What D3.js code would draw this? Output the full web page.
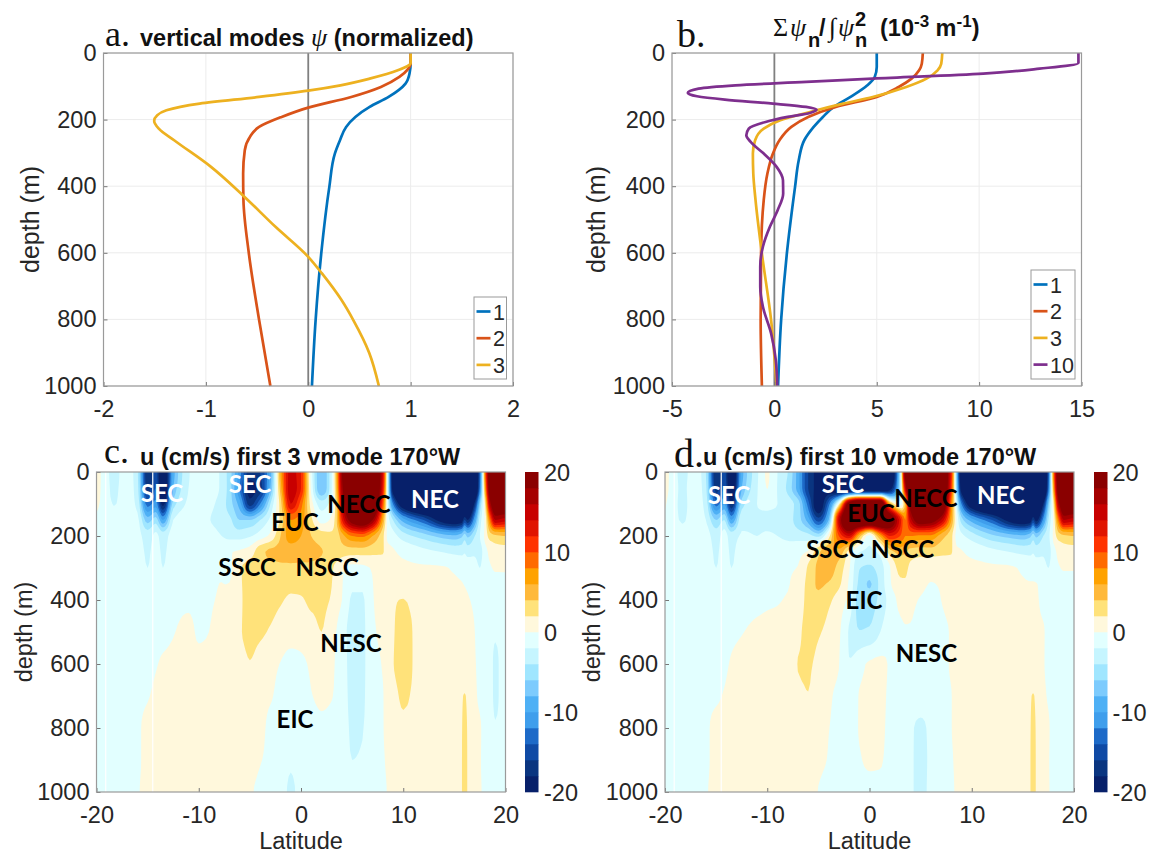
<!DOCTYPE html>
<html><head><meta charset="utf-8">
<script src="https://cdnjs.cloudflare.com/ajax/libs/d3/7.8.5/d3.min.js"></script>
<style>
html,body{margin:0;background:#fff}
svg{display:block}
text{font-family:"Liberation Sans",Arial,sans-serif;fill:#262626}
.tick text{font-size:23.5px}
.ser{font-family:"Liberation Serif",serif}
.cur{font-family:Lato,"Noto Sans",sans-serif;font-weight:700;font-size:24px;text-anchor:middle;dominant-baseline:central}
.ttl{font-weight:700;font-size:23.5px;fill:#111}
</style></head><body><svg id="c" width="1157" height="854"></svg>
<script>
// ---------- line panels: depth (m) and values
const depthA1=[0,30,60,92,132,162,192,222,262,302,402,602,802,1000];
const modeA1=[1,1,.99,.95,.785,.6,.46,.37,.31,.26,.206,.127,.072,.036];
const depthA2=[0,30,50,72,102,132,164,192,222,252,292,362,442,602,802,1000];
const modeA2=[1,1,.97,.89,.71,.42,0,-.26,-.48,-.57,-.62,-.636,-.633,-.58,-.48,-.37];
const depthA3=[0,30,52,77,97,113,132,152,172,187,204,227,262,342,427,522,612,662,742,802,900,1000];
const modeA3=[1,1,.875,.6,.315,0,-.48,-1.06,-1.385,-1.475,-1.505,-1.46,-1.31,-.95,-.64,-.32,0,.134,.325,.44,.595,.69];

const depthB1=[0,42,72,97,132,162,192,222,262,322,402,602,802,1000];
const sumB1=[5,5,4.9,4.54,3.72,2.9,2.37,1.92,1.46,1.19,1.01,.61,.33,.18];
const depthB2=[0,32,52,77,102,132,162,192,222,262,302,362,442,602,802,1000];
const sumB2=[7.25,7.2,7.07,6.7,6.07,5,3,1.65,.83,.25,-.07,-.34,-.52,-.65,-.67,-.61];
const depthB3=[0,32,52,77,102,132,152,177,202,227,262,302,362,442,602,802,1000];
const sumB3=[8.2,8.15,7.97,7.43,6.44,4.8,3.36,1.74,.29,-.52,-.94,-1.05,-1.03,-.92,-.61,-.16,.11];
const depthB10=[0,30,47,62,77,87,97,107,120,130,140,152,162,170,180,192,207,227,247,267,302,342,382,422,472,522,582,642,702,762,842,922,1000];
const sumB10=[14.85,14.85,12.95,10.2,4.8,1.55,-1.9,-3.7,-4.23,-3.78,-2.42,-.07,1.55,2.06,1.74,.65,-.43,-1.25,-1.37,-1.16,-.52,.11,.42,.43,.16,-.22,-.56,-.69,-.69,-.56,-.16,.07,.14];

const lineColors=["#0072BD","#D95319","#EDB120","#7E2F8E"];

// ---------- section grids: latitude, depth, zonal velocity (cm/s)
const lats=[-20,-18.3,-17,-16,-15,-14.2,-13.5,-12.5,-11,-10,-9,-8,-7,-6,-5,-4,-3,-2,-1,0,1,2,3,3.5,4,5,6,7,8,8.5,9,10,12,14,15,15.7,16,16.3,17,17.5,18,18.5,19,20];
const depthsC=[0,50,100,150,200,250,300,400,500,600,700,800,900,1000];
const depthsD=[0,50,100,150,200,250,300,350,400,500,600,700,800,900,1000];
const uC=[
[.5,-2.6,-1,-3.5,-18,-15,-23,-9,-2.2,-1,-1,-2,-5,-11,-17,-16,-9,6,15,12,-1,-8,-2,6,18,25,25,25,14,-3,-21,-26,-26,-26,-26,-26,-26,-26,-24,-13,8,22,25,25],
[.4,-2.4,-1,-3.2,-17,-14,-23,-8,-2,-1,-1,-2,-5,-12,-19,-17,-8,5,15.5,12,-.5,-8,-2,5.5,17,25,25,25,13,-3,-20,-26,-26,-26,-26,-26,-26,-26,-24,-12,6,21,24,24],
[.2,-2.1,-1,-2.6,-13,-11,-19,-5,-1.6,-.8,-1.5,-2.5,-5,-9,-17,-12,-4,3,14,9,1,-3,-1,4,15,24,24,24,10,-2,-12,-21,-25,-25,-25,-25,-25,-25,-17,-6,2,17,22,22],
[-.2,-1,-.8,-1.5,-7,-5,-10,-2,-.8,-1,-1.9,-2.6,-3.5,-6,-6,-4,-1.5,2.5,8,7,2.5,-.8,.5,4,12,20,22,18,6,-1,-4,-9,-14,-20,-21,-20,-16,-18,-10,-3,.5,9,16,15],
[-.5,-.7,-.7,-1.2,-3,-1.5,-3,-1,-.6,-.5,-.9,-1.8,-2.5,-2.7,-2.2,-1,.5,4,7,6,4,3,2.5,3,5,8,8.5,6,2.5,-.5,-1.2,-3,-5,-7,-7.5,-6.5,-5,-6.5,-4,-2,.5,3,3.5,4],
[-.4,-.5,-.6,-.8,-2.4,-1,-2.4,-.7,-.4,-.3,-.4,-.3,-.1,.3,1,3.3,4.4,4.6,4.8,4.8,4.6,4.1,3.4,3.2,3,2.8,2.8,2.6,2.2,.5,.2,-.4,-1.4,-2.1,-2.5,-2.6,-2.2,-2.8,-2.4,-2.8,-.6,.4,1,1.1],
[-.3,-.4,-.5,-.6,-2,-.7,-2,-.5,-.3,-.2,-.2,-.1,-.3,1.8,2.6,3.1,3.4,3.6,3.7,3.6,3.5,3.2,2.3,1.2,.3,-.5,-.4,.1,.2,.3,.4,.4,.2,.1,-.2,-.5,-.6,-.8,-1.2,-2,-.4,-.1,.1,.1],
[-.3,-.3,-.4,-.4,-.4,-.4,-.4,-.3,-.2,-.2,-.1,.1,.5,1.7,2.6,2.8,2.6,2.2,1.7,1.8,2.4,2.4,1.8,.8,0,-2.2,-2.2,-.1,.5,.7,1.8,2.05,.8,.5,.4,.3,.2,.1,-.2,-.4,-.5,-.5,-.5,-.4],
[-.4,-.4,-.3,-.3,-.3,-.2,-.2,-.05,.3,-.15,0,.4,.8,1.8,2.5,2.3,1.8,1.2,.8,.8,1.3,2,.6,-.1,-1.2,-2.5,-2.4,-.3,.4,.8,1.8,2.7,.9,.6,.4,.3,.3,.3,0,-.3,-.6,-1.2,-1.7,-.8],
[-.4,-.4,-.3,-.3,-.2,-.05,.1,.2,.3,.3,.4,.5,.7,1,1.9,1.1,.4,-.05,-.5,-.3,.2,.5,.3,-.3,-1,-2.6,-2.4,-.5,.1,.6,1.9,2.9,.7,.5,.4,.3,.3,.2,.05,-.3,-.7,-1.3,-2.4,-.9],
[-.4,-.3,-.3,-.2,-.05,.15,.3,.3,.3,.3,.4,.4,.4,.4,.4,.3,.1,-.3,-.5,-.5,-.05,.2,.05,-.3,-.9,-2.5,-2.3,-.6,-.05,.4,1.1,2.4,.7,.5,.4,1.8,2.1,1.7,.2,-.2,-.6,-1.2,-2.4,-.9],
[-.3,-.3,-.2,-.1,.2,.3,.3,.3,.3,.3,.3,.3,.3,.3,.3,.2,-.2,-.4,-.6,-.6,-.4,-.2,-.3,-.4,-.8,-2.3,-2.1,-.6,-.05,.3,.7,1.4,.6,.5,.4,1.9,2.3,1.9,.3,.1,-.4,-.8,-1.8,-.8],
[-.3,-.3,-.2,-.1,.2,.3,.3,.3,.3,.3,.3,.3,.3,.3,.3,.05,-.2,-.5,-1.6,-.7,-.5,-.4,-.4,-.5,-.8,-2,-1.8,-.6,-.1,.15,.4,.5,.5,.5,.4,1.9,2.5,1.9,.3,.05,-.2,-.5,-.7,-.6],
[-.3,-.3,-.2,-.05,.2,.3,.3,.3,.3,.3,.3,.3,.3,.3,.1,-.2,-.5,-1,-2.4,-1.2,-.7,-.5,-.5,-.5,-.8,-1.2,-1.2,-.6,-.15,.05,.3,.4,.4,.4,.4,1.9,2.5,1.9,.3,.05,-.1,-.4,-.5,-.5]
];
const uD=[
[.4,-2.6,-.9,-4,-18,-15,-23,-9,-2.4,.2,-2,-4,-9,-16,-19,-20,-22,-24,-26,-26,-26,-24,-4,20,25,25,25,25,12,-6,-22,-26,-26,-26,-26,-26,-26,-26,-26,-14,8,22,25,25],
[.3,-2.4,-.9,-3.5,-17,-14,-22,-8,-2.2,.05,-2.1,-4.5,-9,-16,-19,-20,-22,-24,-24,-24,-24,-20,-4,15,25,25,25,25,11,-5,-20,-26,-26,-26,-26,-26,-26,-26,-25,-13,6,21,24,24],
[.1,-2.5,-.9,-2.8,-13,-10,-18,-5,-2,-1.6,-2,-3,-5,-13,-20.5,-13,1,21,25,25,25,6,-1,5,20,25,25,24,8,-2,-12,-21,-25,-25,-25,-25,-25,-25,-18,-7,2,17,22,22],
[-.2,-2.2,-1,-2,-6,-4,-10,-2.5,-2.2,-2.3,-2.4,-3.2,-5,-9,-15,-8,15,25,25,25,25,22,13,8,15,21,20,16,6,0,-5,-9,-14,-20,-21,-20,-16,-19,-11,-4,.5,9,16,15],
[-.5,-1,-.8,-1.1,-3,-1.2,-3,-1.8,-2,-1.8,-2,-2.4,-2.8,-3.2,-4.5,1,10,14,5,-1,6,12,10,8,8,7.5,7.5,5,2.5,-.5,-1.5,-3,-5.5,-7,-7.5,-6.5,-5,-6.5,-4,-2.5,.5,3,3.5,4],
[-.4,-.5,-.6,-.7,-2.4,-.9,-2.4,-.9,-.9,-1,-1,-1,-.5,.2,3.6,5.4,5.3,1,-1.9,-2.5,-1.5,3,4.6,4.2,3.2,3,3,2.6,2.2,.3,.1,-.4,-1.4,-2.1,-2.5,-2.6,-2.2,-2.8,-2.4,-2.8,-.6,.4,1,1.1],
[-.3,-.4,-.5,-.6,-2,-.7,-2,-.7,-.6,-.5,-.4,-.3,.1,2.3,4.4,5,3.2,.3,-3.9,-4.4,-3,-.1,2.6,2.5,1.5,.6,.4,.4,.3,.3,.3,.3,.2,.1,-.2,-.5,-.6,-.8,-1.2,-2,-.4,-.1,.1,.1],
[-.3,-.3,-.4,-.4,-.6,-.5,-.7,-.4,-.3,-.3,-.2,-.1,1,2.5,4.3,3.8,2.4,-.3,-4.5,-6.2,-3.5,-.3,1.6,1.7,1,.4,-.05,.1,.3,.3,.3,.3,.3,.2,.1,.05,.05,.03,-.3,-.5,-.5,-.4,-.3,-.3],
[-.3,-.3,-.4,-.4,-.3,-.3,-.3,-.2,-.15,-.1,-.05,.1,.9,2.6,3.3,2.4,1.1,-.6,-5,-5,-3.5,-1.2,.4,.5,.3,-.1,-.4,0,.3,.3,.3,.4,.4,.3,.25,.2,.15,.1,-.2,-.3,-.5,-.5,-.5,-.4],
[-.4,-.3,-.3,-.3,-.2,-.15,-.1,-.02,.1,.15,.2,.4,1.5,2.6,2.2,1.4,.3,-2.2,-3.9,-3.7,-2.1,-.5,-.2,-.1,-.1,-.4,-.5,-.3,.1,.3,.3,.4,.4,.4,.35,.3,.3,.2,.05,-.2,-.5,-.6,-.6,-.5],
[-.4,-.4,-.3,-.3,-.2,-.1,.05,.15,.2,.25,.3,.5,2.05,2.2,1.5,.6,.05,-1.9,-.6,.2,.3,-.1,-.3,-.4,-.5,-.7,-.7,-.4,.1,.2,.3,.4,.5,.4,.4,.3,.3,.3,.05,-.2,-.5,-.7,-.8,-.7],
[-.4,-.3,-.3,-.2,-.1,.05,.2,.3,.3,.3,.4,.5,1.5,1.95,.8,.15,-.2,-.6,.05,.3,.3,-.2,-.4,-.4,-.5,-.9,-.7,-.4,-.02,.2,.3,.4,.5,.4,.4,1.8,2.1,1.7,.2,-.1,-.4,-.5,-.5,-.5],
[-.3,-.3,-.2,-.1,.2,.3,.3,.3,.3,.3,.3,.3,.3,.3,.3,.02,-.2,-.4,.05,.3,.3,-.3,-.4,-.6,-1.6,-2.4,-1.5,-.5,-.02,.2,.4,.4,.5,.5,.4,1.9,2.3,1.9,.3,.1,-.4,-.5,-.5,-.5],
[-.3,-.3,-.2,-.1,.2,.3,.3,.3,.3,.3,.3,.3,.3,.3,.2,-.05,-.3,-.4,-.1,.2,.15,-.4,-.5,-.6,-1.6,-2.5,-1.6,-.6,-.1,.15,.3,.4,.5,.5,.4,1.9,2.5,1.9,.3,.05,-.3,-.5,-.5,-.5],
[-.3,-.3,-.2,-.05,.2,.3,.3,.3,.3,.3,.3,.3,.3,.25,-.02,-.3,-.5,-.6,-.5,-.4,-.4,-.5,-.6,-.6,-1.6,-2.5,-1.5,-.6,-.15,.1,.3,.4,.5,.5,.4,1.9,2.5,1.9,.3,.05,-.2,-.4,-.5,-.5]
];
// -20..20 in steps of 2, bottom to top of the colour bar
const bandEdges=d3.range(-20,21,2);
const bandColors=["#07206a","#0a3580","#0f4aa5","#1d6ac8","#3f9eec","#4eb0f5","#7dcbfd","#a0e6ff","#c6f5ff","#e2ffff","#fff8dc","#ffe27a","#ffb93b","#ffa200","#ff6a00","#ff3300","#e01400","#c80000","#a50000","#8a0000"];
const gapLats=[-19.1,-14.5];
const colorTicks=[-20,-10,0,10,20];
const depthTicks=[0,200,400,600,800,1000];

const svg=d3.select("#c");
const axisGrey="#9a9a9a";

function grid(g,x,y,W,H,xt,yt){
  g.selectAll(".gx").data(xt).join("line").attr("x1",d=>x(d)).attr("x2",d=>x(d)).attr("y1",0).attr("y2",H).attr("stroke","#ececec");
  g.selectAll(".gy").data(yt).join("line").attr("x1",0).attr("x2",W).attr("y1",d=>y(d)).attr("y2",d=>y(d)).attr("stroke","#ececec");
}
function axes(g,x,y,W,H,xt,yt,xl,yOff,ySize){
  const ax=g.append("g").attr("transform",`translate(0,${H})`).call(d3.axisBottom(x).tickValues(xt).tickSizeInner(-4).tickSizeOuter(0).tickPadding(14).tickFormat(String));
  const ay=g.append("g").call(d3.axisLeft(y).tickValues(yt).tickSizeInner(-4).tickSizeOuter(0).tickPadding(7).tickFormat(String));
  [ax,ay].forEach(a=>{a.select(".domain").remove();a.selectAll("line").attr("stroke","#777");a.selectAll("text").style("fill","#262626")});
  g.append("rect").attr("width",W).attr("height",H).attr("fill","none").attr("stroke",axisGrey).attr("stroke-width",1.2);
  g.append("g").attr("transform",`translate(${yOff},${H/2}) rotate(-90)`)
   .append("text").attr("text-anchor","middle").attr("font-size",ySize).text("depth (m)");
  if(xl) g.append("text").attr("x",W/2).attr("y",H+57).attr("text-anchor","middle").attr("font-size",23.5).text(xl);
}
function linePanel(px,py,xd,xt,series,legendLabels,legendBox,yOff){
  const W=409.5,H=333;
  const g=svg.append("g").attr("transform",`translate(${px},${py})`);
  const x=d3.scaleLinear().domain(xd).range([0,W]);
  const y=d3.scaleLinear().domain([0,1000]).range([0,H]);
  grid(g,x,y,W,H,xt,depthTicks);
  g.append("line").attr("x1",x(0)).attr("x2",x(0)).attr("y1",0).attr("y2",H).attr("stroke","#808080").attr("stroke-width",1.8);
  const ln=d3.line().x(d=>x(d[1])).y(d=>y(d[0])).curve(d3.curveMonotoneY);
  series.forEach(s=>{
    g.append("path").attr("d",ln(d3.zip(s[0],s[1]))).attr("fill","none").attr("stroke",lineColors[s[2]]).attr("stroke-width",2.7);
  });
  axes(g,x,y,W,H,xt,depthTicks,null,yOff,25);
  const lg=g.append("g").attr("transform",`translate(${legendBox[0]-px},${legendBox[1]-py})`);
  lg.append("rect").attr("width",legendBox[2]).attr("height",legendBox[3]).attr("fill","#fff").attr("stroke","#9a9a9a");
  const step=26.7;
  legendLabels.forEach((t,i)=>{
    const yy=14.5+i*step;
    lg.append("line").attr("x1",2.5).attr("x2",16.5).attr("y1",yy).attr("y2",yy).attr("stroke",lineColors[t[1]]).attr("stroke-width",2.7);
    lg.append("text").attr("x",19).attr("y",yy+8).attr("font-size",21.5).text(t[0]);
  });
  return g;
}
// shape-preserving refinement of one profile, used only to trace smooth contour edges
function refineStep(xs,ys,sub){
  const n=xs.length,h=[],s=[];
  for(let i=0;i<n-1;i++){h[i]=xs[i+1]-xs[i];s[i]=(ys[i+1]-ys[i])/h[i];}
  const m=new Array(n);m[0]=s[0];m[n-1]=s[n-2];
  for(let i=1;i<n-1;i++){
    if(s[i-1]*s[i]<=0)m[i]=0;
    else{const w1=2*h[i]+h[i-1],w2=h[i]+2*h[i-1];m[i]=(w1+w2)/(w1/s[i-1]+w2/s[i]);}
  }
  const out=[];
  for(let i=0;i<n-1;i++)for(let k=0;k<sub;k++){
    const t=k/sub,t2=t*t,t3=t2*t;
    out.push((2*t3-3*t2+1)*ys[i]+(t3-2*t2+t)*h[i]*m[i]+(-2*t3+3*t2)*ys[i+1]+(t3-t2)*h[i]*m[i+1]);
  }
  out.push(ys[n-1]);
  return out;
}
function refineAxis(xs,sub){
  const out=[];
  for(let i=0;i<xs.length-1;i++)for(let k=0;k<sub;k++)out.push(xs[i]+(xs[i+1]-xs[i])*k/sub);
  out.push(xs[xs.length-1]);
  return out;
}
function contourPanel(px,py,field,depths,cbX,cbLabelX,id,yOff){
  const W=409,H=320,SUB=5;
  const g=svg.append("g").attr("transform",`translate(${px},${py})`);
  const x=d3.scaleLinear().domain([-20,20]).range([0,W]);
  const y=d3.scaleLinear().domain([0,1000]).range([0,H]);
  svg.append("defs").append("clipPath").attr("id",id).append("rect").attr("width",W).attr("height",H);
  const plot=g.append("g").attr("clip-path",`url(#${id})`);
  plot.append("rect").attr("width",W).attr("height",H).attr("fill",bandColors[0]);
  // pad one row / column outside the frame, then refine
  const la=[-21.5,...lats,21.5],de=[-60,...depths,1060];
  const padded=de.map((_,j)=>{
    const r=field[Math.max(0,Math.min(depths.length-1,j-1))];
    return [r[0],...r,r[r.length-1]];
  });
  const laF=refineAxis(la,SUB),deF=refineAxis(de,SUB);
  const byRow=padded.map(r=>refineStep(la,r,SUB));
  const n=laF.length,m=deF.length,vals=new Array(n*m);
  for(let i=0;i<n;i++){
    const col=refineStep(de,byRow.map(r=>r[i]),SUB);
    for(let j=0;j<m;j++)vals[j*n+i]=col[j];
  }
  const ix=d3.scaleLinear().domain(d3.range(n)).range(laF);
  const iy=d3.scaleLinear().domain(d3.range(m)).range(deF);
  const thresholds=bandEdges.slice(1,-1);
  const cs=d3.contours().size([n,m]).smooth(true).thresholds(thresholds)(vals);
  const ln=d3.line();
  cs.forEach(c=>{
    const parts=[];
    c.coordinates.forEach(poly=>poly.forEach(r=>{
      parts.push(ln(r.map(p=>[x(ix(p[0]-.5)),y(iy(p[1]-.5))]))+"Z");
    }));
    plot.append("path").attr("d",parts.join("")).attr("fill",bandColors[bandEdges.indexOf(c.value)]).attr("fill-rule","evenodd");
  });
  gapLats.forEach(l=>plot.append("line").attr("x1",x(l)).attr("x2",x(l)).attr("y1",0).attr("y2",H).attr("stroke","#fff").attr("stroke-width",1.2));
  axes(g,x,y,W,H,[-20,-10,0,10,20],depthTicks,"Latitude",yOff,23.5);
  // colour bar
  const cy=d3.scaleLinear().domain([-20,20]).range([py+H,py]);
  const cb=svg.append("g");
  cb.selectAll("rect").data(bandColors).join("rect").attr("x",cbX).attr("width",13.5)
    .attr("y",(d,i)=>cy(bandEdges[i+1])).attr("height",(d,i)=>cy(bandEdges[i])-cy(bandEdges[i+1])+.3).attr("fill",d=>d);
  cb.selectAll("text").data(colorTicks).join("text").attr("x",cbLabelX).attr("y",d=>cy(d)+8.5).attr("font-size",23.5).text(d=>d);
  return g;
}

linePanel(103.5,53,[-2,2],[-2,-1,0,1,2],[[depthA1,modeA1,0],[depthA2,modeA2,1],[depthA3,modeA3,2]],[["1",0],["2",1],["3",2]],[474,297,32.5,82],-65);
linePanel(672,53,[-5,15],[-5,0,5,10,15],[[depthB1,sumB1,0],[depthB2,sumB2,1],[depthB3,sumB3,2],[depthB10,sumB10,3]],[["1",0],["2",1],["3",2],["10",3]],[1031,270,44,109],-67);
contourPanel(96.5,472,uC,depthsC,525,544,"cc",-65);
contourPanel(665,472,uD,depthsD,1094,1112.5,"cd",-65);

// ---------- titles
function letter(x,y,t,s){svg.append("text").attr("class","ser").attr("x",x).attr("y",y).attr("font-size",s).style("fill","#111").text(t)}
letter(105,46,"a.",36);letter(677,47,"b.",38);letter(104,463,"c.",36);letter(674,467,"d.",40);
const tA=svg.append("text").attr("class","ttl").attr("x",140).attr("y",46);
tA.append("tspan").text("vertical modes ");
tA.append("tspan").attr("class","ser").style("font-style","italic").style("font-weight",400).style("font-size","26px").text("ψ");
tA.append("tspan").text(" (normalized)");
function piece(x,y,t,o={}){
  const e=svg.append("text").attr("class","ttl").attr("x",x).attr("y",y).text(t);
  if(o.ser)e.classed("ser",true).style("font-weight",400).style("font-size","26px");
  if(o.it)e.style("font-style","italic");
  if(o.fs)e.style("font-size",o.fs+"px");
  return e;
}
piece(773,36,"Σ",{ser:1});piece(790,36,"ψ",{ser:1,it:1});piece(808,47,"n",{fs:20});piece(819,36,"/");
piece(829,36,"∫",{ser:1});piece(838,36,"ψ",{ser:1,it:1});piece(855,26,"2",{fs:20});piece(855,47,"n",{fs:20});
const tB=svg.append("text").attr("class","ttl").attr("x",880).attr("y",36);
tB.append("tspan").text("(10");
tB.append("tspan").attr("dy",-9).style("font-size","17px").text("-3");
tB.append("tspan").attr("dy",9).text(" m");
tB.append("tspan").attr("dy",-9).style("font-size","17px").text("-1");
tB.append("tspan").attr("dy",9).text(")");
svg.append("text").attr("class","ttl").attr("x",140).attr("y",465).text("u (cm/s) first 3 vmode 170°W");
svg.append("text").attr("class","ttl").attr("x",703).attr("y",465).text("u (cm/s) first 10 vmode 170°W");

// ---------- current labels
const labelsC=[["SEC",162,492,1],["SEC",250,483,1],["NECC",359,503,0],["NEC",435,498,1],["EUC",295,521,0],["SSCC",247,566,0],["NSCC",327,566,0],["NESC",351,642,0],["EIC",295,718,0]];
const labelsD=[["SEC",729,494,1],["SEC",843,483,1],["NECC",926,497,0],["NEC",1001,494,1],["EUC",871,512,0],["SSCC",835,548,0],["NSCC",902.5,548,0],["EIC",864,599,0],["NESC",926.5,652,0]];
svg.selectAll(".cur").data(labelsC.concat(labelsD)).join("text").attr("class","cur")
  .attr("x",d=>d[1]).attr("y",d=>d[2]).style("fill",d=>d[3]?"#fff":"#000").text(d=>d[0]);
</script></body></html>
